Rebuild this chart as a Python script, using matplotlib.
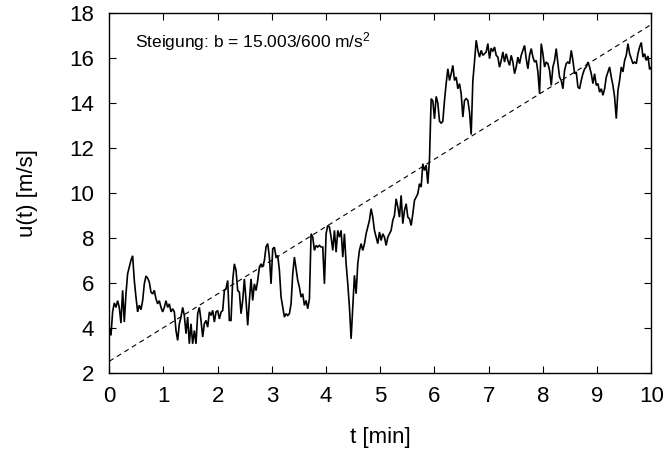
import numpy as np
import matplotlib
matplotlib.use("Agg")
import matplotlib.pyplot as plt

plt.rcParams['font.family'] = ['Liberation Sans', 'DejaVu Sans']
plt.rcParams['mathtext.fontset'] = 'custom'
plt.rcParams['mathtext.rm'] = 'Liberation Sans'
plt.rcParams['mathtext.it'] = 'Liberation Sans:italic'

# Measured wind speed u(t) [m/s], equally spaced samples over 0..10 min
u_seg1 = [4.0, 3.65, 4.7, 5.1, 4.9, 5.2, 4.9, 4.2, 5.66, 4.25, 5.5, 6.4, 6.7, 7.0, 7.2,
          6.1, 5.36, 4.7, 5.0, 4.8, 5.2, 5.95, 6.3, 6.2, 6.03, 5.58, 5.5, 5.66, 5.28,
          5.06, 5.2, 4.9, 4.7, 4.9, 5.2, 4.9, 5.06, 4.7, 4.84, 4.7, 3.87, 3.43, 4.17,
          4.47, 4.9, 4.54, 3.73, 4.47, 3.28, 4.17, 3.28, 3.87, 3.28, 4.62, 4.9, 4.32,
          3.58, 4.17, 4.32, 4.02, 4.7, 4.54, 4.77, 4.25, 4.7]
u_seg2 = [4.76, 4.39, 4.69, 4.76, 5.65, 5.73, 6.1, 4.32, 4.32, 6.1, 6.84, 6.55, 5.65,
          5.58, 4.62, 5.21, 6.17, 5.21, 4.1, 5.21, 6.17, 5.21, 5.95, 5.65, 6.1, 6.7,
          6.84, 6.7, 6.99, 7.6, 7.74, 7.14, 5.95, 7.51, 7.58, 7.14, 7.21, 6.55, 5.36,
          4.91, 4.47, 4.62, 4.54, 4.62, 5.06, 6.4, 7.14, 6.62, 6.1, 5.8, 5.36, 5.51,
          4.99, 5.21, 4.84, 5.28, 8.18, 8.03, 7.44, 7.66, 7.59, 7.66, 7.59, 7.59, 5.95,
          8.18]
u_seg3 = [8.55, 8.48, 8.03, 7.44, 8.33, 7.36, 8.33, 8.03, 8.33, 7.14, 8.18, 6.85, 5.95,
          4.91, 3.5, 4.9, 6.33, 5.51, 6.85, 7.44, 7.74, 7.44, 7.74, 8.18, 8.48, 8.78,
          9.3, 8.92, 8.33, 8.03, 7.74, 8.26, 7.88, 8.18, 8.03, 7.66, 8.03, 8.18, 8.33,
          8.78, 9.0, 9.74, 9.37, 8.92, 9.89, 8.63, 9.22, 9.52, 8.92, 8.85, 8.55, 9.07,
          9.67, 9.82, 9.96, 10.41, 10.26, 11.3, 11.0, 11.23, 10.41, 11.5, 14.2, 14.1,
          13.3, 14.3]
u_seg4 = [14.0, 13.2, 13.1, 13.2, 14.12, 14.87, 15.53, 15.01, 15.31, 15.68, 15.01,
          15.16, 14.64, 14.87, 14.42, 13.38, 14.12, 14.2, 14.12, 13.6, 12.6, 15.0,
          15.85, 16.8, 16.35, 16.05, 16.35, 16.13, 16.2, 16.28, 16.65, 15.98, 16.45,
          16.3, 16.5, 16.13, 16.05, 15.6, 15.9, 16.28, 15.83, 16.2, 15.9, 15.68, 16.13,
          15.83, 15.31, 15.61, 16.05, 15.76, 16.13, 16.35, 16.57, 15.98, 15.53, 16.13,
          16.43, 16.05, 15.83, 15.9, 15.39, 14.42, 16.65, 16.2, 15.61, 15.83]
u_seg5 = [15.76, 15.46, 14.79, 15.61, 15.9, 16.43, 15.76, 15.16, 15.01, 14.64, 15.46,
          15.76, 15.83, 15.76, 16.35, 15.9, 15.31, 15.39, 14.72, 14.64, 15.01, 15.31,
          15.53, 15.61, 15.83, 15.61, 15.31, 14.87, 15.31, 14.79, 14.87, 14.49, 14.64,
          14.35, 14.64, 15.16, 15.39, 15.61, 15.16, 14.79, 14.27, 13.31, 14.57, 15.01,
          15.61, 15.39, 15.9, 16.13, 16.65, 16.2, 15.98, 15.76, 15.83, 15.76, 16.2,
          16.5, 16.7, 16.05, 16.2, 15.9, 16.1, 15.5, 15.6]

u = np.array(u_seg1 + u_seg2 + u_seg3 + u_seg4 + u_seg5)
t_min = np.linspace(0.0, 10.0, len(u))

# Linear fit u = a + b*t (t in seconds)
a_fit = 2.5
b_num = 15.003
b_den = 600.0

x_ticks = list(range(0, 11))
y_ticks = list(range(2, 19, 2))

fig = plt.figure(figsize=(6.68, 4.5), dpi=100)
ax = fig.add_axes([0.1636, 0.1722, 0.8114, 0.7982])

ax.plot(t_min, u, color='black', lw=1.2, solid_joinstyle='miter')
t_fit = np.array([0.0, 10.0])
ax.plot(t_fit, a_fit + b_num / b_den * t_fit * 60.0, color='black', lw=0.8,
        linestyle=(0, (4.5, 3.5)))

ax.set_xlim(0, 10)
ax.set_ylim(2, 18)
ax.set_xticks(x_ticks)
ax.set_yticks(y_ticks)
ax.tick_params(direction='in', length=5, width=0.8, top=True, right=True,
               labelsize=16)
ax.tick_params(axis='x', pad=10)
ax.tick_params(axis='y', pad=11)
for s in ax.spines.values():
    s.set_linewidth(1.0)

ax.set_xlabel('t [min]', fontsize=16)
ax.set_ylabel('u(t) [m/s]', fontsize=16)
ax.xaxis.set_label_coords(0.5, -0.153)
ax.yaxis.set_label_coords(-0.131, 0.5)

ax.text(0.47, 16.5, 'Steigung: b = 15.003/600 m/s$^2$', fontsize=12.5,
        ha='left', va='baseline')

fig.savefig('out.png', dpi=100)
